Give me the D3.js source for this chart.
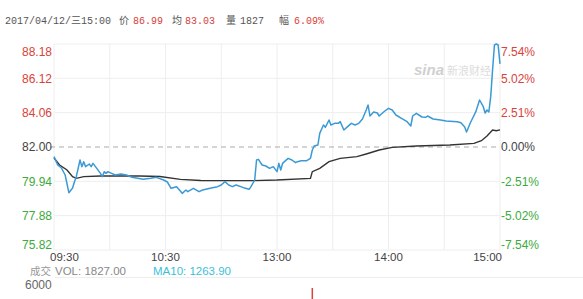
<!DOCTYPE html>
<html><head><meta charset="utf-8">
<script src="https://cdn.jsdelivr.net/npm/d3@7"></script>
<style>body{margin:0;background:#fff}svg{display:block}</style>
</head><body><svg id="c" width="583" height="299"></svg>
<script>
const priceTimes = ["09:30","09:32","09:34","09:36","09:38","09:40","09:41","09:42","09:44","09:45","09:46","09:47","09:49","09:50","09:51","09:53","09:55","09:56","09:57","09:58","09:59","10:01","10:03","10:06","10:09","10:12","10:15","10:18","10:22","10:25","10:29","10:31","10:33","10:36","10:39","10:41","10:42","10:45","10:48","10:50","10:54","10:58","11:00","11:02","11:04","11:06","11:08","11:12","11:15","11:16","11:18","11:19","11:20","11:22","11:24","11:26","11:28","11:30","13:01","13:02","13:03","13:04","13:06","13:08","13:10","13:11","13:13","13:16","13:18","13:19","13:20","13:22","13:23","13:25","13:26","13:28","13:29","13:31","13:33","13:34","13:36","13:38","13:40","13:42","13:44","13:46","13:48","13:49","13:50","13:52","13:54","13:55","13:58","14:00","14:02","14:04","14:07","14:10","14:12","14:13","14:15","14:18","14:20","14:21","14:24","14:28","14:31","14:37","14:39","14:41","14:42","14:44","14:47","14:49","14:51","14:52","14:53","14:54","14:55","14:56","14:57","14:58","14:59","15:00"];
const priceValues = [81.42,80.92,80.74,80.32,79.26,79.54,79.92,80.22,81.22,80.82,81.12,80.82,80.98,80.82,81.02,80.72,80.42,80.22,80.52,80.42,80.52,80.42,80.32,80.38,80.32,80.18,80.12,80.06,80.12,80.18,80.02,79.90,79.52,79.62,79.22,79.42,79.32,79.52,79.32,79.42,79.52,79.62,79.72,79.92,79.72,79.62,79.72,79.56,79.46,79.62,80.02,81.22,81.26,80.92,80.86,80.72,80.82,80.52,81.02,80.62,81.02,81.12,81.32,81.22,81.06,81.12,81.18,81.18,81.32,81.82,82.06,82.12,82.82,83.32,83.18,83.62,83.32,83.42,83.42,83.52,83.02,83.22,83.42,83.32,83.42,83.68,84.22,84.52,83.86,84.10,84.04,83.86,84.16,84.32,84.22,83.92,83.72,83.52,83.26,83.86,84.02,83.80,83.78,83.86,83.68,83.62,83.56,83.52,83.46,83.20,82.90,83.44,84.12,84.82,84.42,84.04,84.22,84.10,85.02,86.62,88.12,88.18,88.12,86.99];
const avgTimes = ["09:30","09:33","09:37","09:40","09:42","09:46","09:55","10:16","10:27","10:38","10:49","11:17","11:30","13:18","13:19","13:23","13:28","13:34","13:43","13:48","13:55","14:02","14:15","14:33","14:46","14:50","14:53","14:56","14:58","15:00"];
const avgValues = [81.34,80.92,80.62,80.22,80.12,80.22,80.26,80.26,80.23,80.06,79.99,79.98,80.02,80.12,80.52,80.72,81.12,81.32,81.42,81.58,81.82,81.98,82.06,82.12,82.22,82.38,82.66,83.02,82.98,83.03];
const priceTicks = [75.82,77.88,79.94,82.00,84.06,86.12,88.18];
const pctTicks = ["-7.54%","-5.02%","-2.51%","0.00%","2.51%","5.02%","7.54%"];
const timeLabels = ["09:30","10:30","13:00","14:00","15:00"];
const gridTimes = ["09:30","10:00","10:30","11:00","11:30","13:30","14:00","14:30","15:00"];
const volTimes = ["13:19"];
const volValues = [5400];
const prevClose = 82.00;

function tm(s){const [h,m]=s.split(":").map(Number);const v=h*60+m;return v<=690? v-570 : v-780+120;}

const svg = d3.select("#c");
const x = d3.scaleLinear().domain([0,240]).range([54,500]);
const y = d3.scaleLinear().domain([75.82,88.18]).range([250,44]);
const font = "Arial, 'Liberation Sans', sans-serif";

// title
const title = svg.append("g").attr("font-family","'Liberation Mono','Noto Sans CJK SC',monospace").attr("font-size",10).attr("dominant-baseline","central");
const segs = [["2017/04/12/三15:00",5,"#555"],["价",119,"#555"],["86.99",133,"#d9403a"],["均",172,"#555"],["83.03",185,"#d9403a"],["量",226,"#555"],["1827",240,"#555"],["幅",279,"#555"],["6.09%",294,"#d9403a"]];
segs.forEach(s=>title.append("text").attr("x",s[1]).attr("y",21).attr("fill",s[2]).text(s[0]));

// grid
const grid = svg.append("g");
grid.selectAll("line.h").data(priceTicks.filter(v=>v!==prevClose)).join("line")
  .attr("x1",54).attr("x2",500).attr("y1",d=>y(d)).attr("y2",d=>y(d)).attr("stroke","#eeeeee");
grid.selectAll("line.v").data(gridTimes).join("line")
  .attr("x1",d=>x(tm(d))).attr("x2",d=>x(tm(d))).attr("y1",44).attr("y2",250).attr("stroke","#eeeeee");
grid.append("line").attr("x1",50).attr("x2",500).attr("y1",y(prevClose)).attr("y2",y(prevClose))
  .attr("stroke","#aaa").attr("stroke-dasharray","5,4");

// watermark
svg.append("text").attr("x",414).attr("y",75).attr("font-family",font).attr("font-style","italic").attr("font-weight","bold").attr("font-size",15).attr("fill","#d0d0d0").text("sina");
svg.append("text").attr("x",447).attr("y",75).attr("font-family","'Noto Sans CJK SC',sans-serif").attr("font-size",11).attr("fill","#dcdcdc").text("新浪财经");

// axes labels
const colorFor = v => v>prevClose? "#d9433b" : (v<prevClose? "#3daa3d" : "#444");
const left = svg.append("g").attr("transform","translate(52,0)")
  .call(d3.axisLeft(y).tickValues(priceTicks).tickFormat(d3.format(".2f")).tickSize(0).tickPadding(0));
left.select(".domain").remove();
left.selectAll("text").attr("font-family",font).attr("font-size",12).attr("fill",d=>colorFor(d))
  .attr("dy",d=>d===88.18?"0.95em":(d===75.82?"-0.15em":"0.32em"));
const right = svg.append("g").attr("transform","translate(501,0)")
  .call(d3.axisRight(y).tickValues(priceTicks).tickFormat((d,i)=>pctTicks[i]).tickSize(0).tickPadding(0));
right.select(".domain").remove();
right.selectAll("text").attr("font-family",font).attr("font-size",12).attr("fill",d=>colorFor(d))
  .attr("dy",d=>d===88.18?"0.95em":(d===75.82?"-0.15em":"0.32em"));

// time labels
svg.append("g").selectAll("text").data(timeLabels).join("text")
  .attr("x",(d,i)=> i===0? 50 : (i===timeLabels.length-1? 502 : x(tm(d))))
  .attr("text-anchor",(d,i)=> i===0?"start":(i===timeLabels.length-1?"end":"middle"))
  .attr("y",261).attr("font-family",font).attr("font-size",11.5).attr("fill","#444").text(d=>d);

// lines
const line = d3.line().x(d=>x(d[0])).y(d=>y(d[1]));
const pdata = priceTimes.map((t,i)=>[tm(t),priceValues[i]]);
const adata = avgTimes.map((t,i)=>[tm(t),avgValues[i]]);
svg.append("path").datum(adata).attr("d",line).attr("fill","none").attr("stroke","#333").attr("stroke-width",1.4);
svg.append("path").datum(pdata).attr("d",line).attr("fill","none").attr("stroke","#3b9ad6").attr("stroke-width",1.5).attr("stroke-linejoin","round");

// volume panel
svg.append("text").attr("x",30).attr("y",275).attr("font-family","'Noto Sans CJK SC',sans-serif").attr("font-size",10.5).attr("fill","#999").text("成交");
svg.append("text").attr("x",55).attr("y",275).attr("font-family",font).attr("font-size",11.5).attr("fill","#888").text("VOL: 1827.00");
svg.append("text").attr("x",153).attr("y",275).attr("font-family",font).attr("font-size",11.5).attr("fill","#3bbfd8").text("MA10: 1263.90");
svg.append("line").attr("x1",55).attr("x2",583).attr("y1",277.5).attr("y2",277.5).attr("stroke","#eee");
svg.append("text").attr("x",25).attr("y",289).attr("font-family",font).attr("font-size",12).attr("fill","#666").text("6000");
const vy = d3.scaleLinear().domain([0,6000]).range([360,280]);
svg.append("g").selectAll("rect").data(volTimes).join("rect")
  .attr("x",(d)=>x(tm(d))-0.75).attr("width",1.5)
  .attr("y",(d,i)=>vy(volValues[i])).attr("height",(d,i)=>vy(0)-vy(volValues[i])).attr("fill","#e04040");
</script></body></html>
